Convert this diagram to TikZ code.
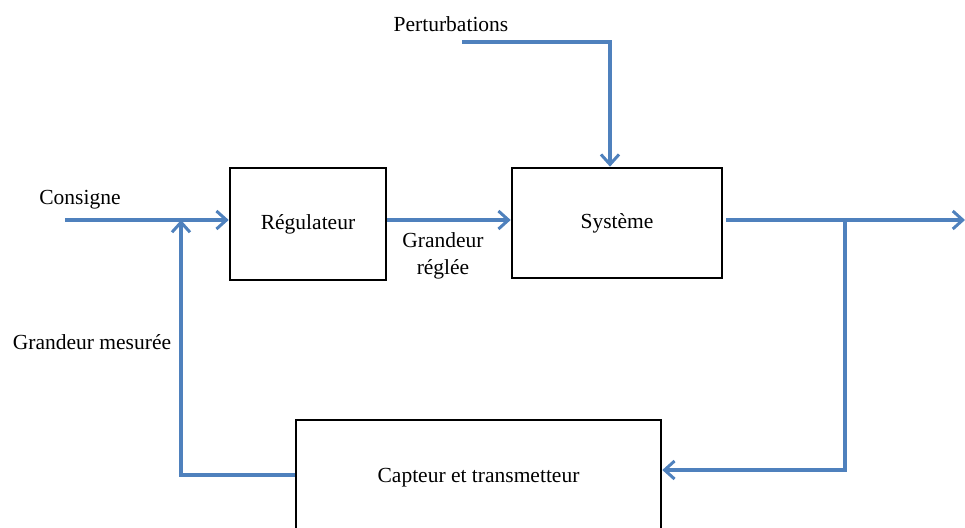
\documentclass[tikz,border=0pt]{standalone}
\usepackage{fontspec}
\setmainfont{Liberation Serif}
\usetikzlibrary{arrows.meta}
\definecolor{lineblue}{HTML}{4F81BD}
\tikzset{
  blockbox/.style={draw=black, line width=2.6pt, rectangle, inner sep=0pt, font=\fontsize{21.5}{27}\selectfont},
  lbl/.style={font=\fontsize{21.5}{27}\selectfont, inner sep=0pt, align=center},
  arr/.style={draw=lineblue, line width=3.2pt, -{Straight Barb[length=10pt,width=18pt,line width=3pt]}},
  ln/.style={draw=lineblue, line width=3.2pt}
}
\begin{document}
\begin{tikzpicture}[x=1pt,y=-1pt]
\useasboundingbox (0,0) rectangle (965,527);
\node[blockbox, minimum width=156pt, minimum height=112pt] (reg) at (308,224) {Régulateur};
\node[blockbox, minimum width=210pt, minimum height=110pt] (sys) at (617,223) {Système};
\node[blockbox, minimum width=365pt, minimum height=116pt] (cap) at (478.5,478) {Capteur et transmetteur};

\node[lbl] (consl) at (80,200) {Consigne};
\node[lbl] (pertl) at (451,24) {Perturbations};
\node[lbl] (grl) at (443,256) {Grandeur\\réglée};
\node[lbl] (gml) at (92,342) {Grandeur mesurée};

\coordinate (cin) at (65,220);
\coordinate (junc) at (181,220);
\coordinate (pin) at (462,42);
\coordinate (pcorner) at (610,42);
\coordinate (sout) at (726,220);
\coordinate (outend) at (965,220);
\coordinate (branch) at (845,220);
\coordinate (bcorner) at (845,470);
\coordinate (fbcorner) at (181,475);

\draw[arr] (cin) -- (reg.west |- cin);
\draw[arr] (reg.east |- cin) -- (sys.west |- cin);
\draw[arr] (pin) -- (pcorner) -- (pcorner |- sys.north);
\draw[arr] (sout) -- (outend);
\draw[arr] (branch) -- (bcorner) -- (cap.east |- bcorner);
\draw[arr] (cap.west |- fbcorner) -- (fbcorner) -- (junc);
\end{tikzpicture}
\end{document}
